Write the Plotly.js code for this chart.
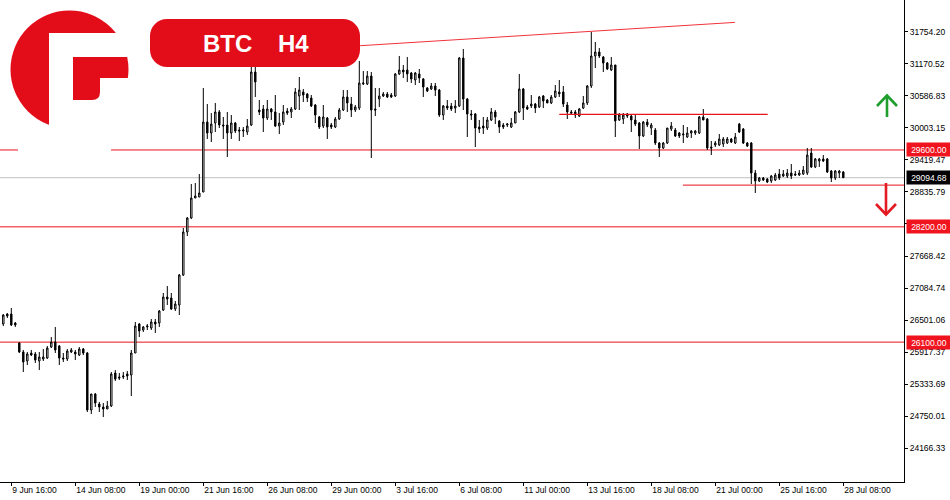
<!DOCTYPE html>
<html>
<head>
<meta charset="utf-8">
<script src="https://cdn.plot.ly/plotly-3.0.1.min.js"></script>
<style>html,body{margin:0;padding:0;background:#fff;}#chart{width:950px;height:500px;}</style>
</head>
<body>
<div id="chart"></div>
<script>
// ---- DATA (BTC H4 candles, one per 4-hour bar, weekends skipped) ----
const open = [
26430,26612,26612,26448,26084,25920,25756,25902,25884,25756,
25793,25811,26011,26102,26030,25811,25793,25920,25920,25865,
25975,25902,24864,25155,24973,24919,24882,24937,25538,25465,
25465,25520,25501,25902,26430,26321,26376,26357,26467,26448,
26685,26922,26904,26703,26776,27323,28106,28361,28725,28743,
28834,30109,29909,30091,30292,30055,30055,29909,30091,29964,
29945,29927,30055,31020,30328,30346,30182,30346,30292,30036,
30109,30310,30292,30346,30583,30656,30619,30547,30419,30201,
30036,30182,30055,30018,30164,30328,30565,30437,30328,30364,
30802,30802,30947,30346,30528,30583,30619,30601,30583,30984,
31057,31057,31002,30874,30984,30893,30729,30711,30765,30692,
30237,30401,30401,30364,30401,31275,30528,30255,30255,30018,
30036,30000,30146,30292,30127,30055,30055,30018,30091,30292,
30711,30383,30401,30437,30383,30583,30510,30456,30565,30656,
30656,30419,30292,30292,30219,30364,30456,30765,31312,31384,
31293,31184,31057,31148,30146,30164,30255,30219,30146,30091,
29855,30109,30000,29964,29727,29636,29727,29982,29964,29909,
29873,29836,29909,29909,29909,30201,30164,29654,29691,29691,
29709,29727,29800,29727,30073,29982,29727,29727,29180,29035,
29089,29071,29035,29053,29162,29126,29126,29180,29162,29144,
29162,29180,29545,29290,29399,29436,29436,29217,29089,29180,
29199];
const high = [
26612,26630,26722,26467,26102,25957,25920,25957,25920,25920,
25975,26030,26193,26376,26048,25902,25975,25993,25957,26011,
25993,25920,25155,25173,25010,24991,25028,25556,25592,25538,
25556,25574,25957,26467,26448,26394,26430,26521,26521,26685,
26995,27122,26995,26849,27341,28179,28379,28980,28998,29162,
30729,30437,30273,30456,30328,30201,30292,30237,30109,30018,
30018,30164,31129,31129,30510,30419,30510,30364,30601,30273,
30419,30364,30383,30729,30929,30711,30638,30601,30437,30219,
30419,30201,30091,30201,30364,30692,30692,30565,30419,31221,
31038,31038,31020,30729,30729,30656,30656,30638,31002,31312,
31148,31293,31020,31020,31075,30911,30747,30820,30820,30711,
30419,30510,30456,30510,31293,31439,30547,30328,30273,30146,
30201,30201,30364,30328,30146,30091,30091,30182,30310,30984,
30729,30419,30601,30456,30583,30601,30528,30601,30783,30874,
30765,30474,30328,30328,30364,30583,30783,31749,31567,31457,
31312,31202,31293,31148,30273,30273,30273,30237,30237,30109,
30128,30164,30091,30000,29745,29745,30000,30109,30000,29927,
30055,30018,29964,29964,30219,30346,30182,29764,29764,29891,
29836,29836,29818,29909,30091,30000,29745,29745,29235,29108,
29108,29089,29144,29180,29253,29235,29253,29344,29217,29235,
29308,29636,29636,29454,29454,29508,29454,29235,29235,29235,
29217];
const low = [
26394,26539,26394,26376,25902,25556,25683,25847,25720,25592,
25756,25793,25993,25902,25683,25738,25756,25902,25774,25847,
25865,24827,24791,24919,24827,24736,24882,24919,25392,25410,
25428,25410,25119,25902,26193,26285,26321,26321,26266,26376,
26667,26776,26685,26667,26594,27305,28033,28343,28725,28743,
28834,29800,29745,29927,30000,29800,29472,29800,29909,29763,
29836,29873,30036,30565,30237,29927,30146,30146,30018,29891,
30055,30237,30182,30328,30328,30474,30474,30383,30091,29982,
30000,29800,29982,30000,30146,30310,30292,30201,30292,30328,
30783,30783,29454,30219,30383,30565,30547,30547,30565,30966,
30911,30838,30820,30783,30820,30565,30656,30692,30583,30201,
30146,30328,30310,30273,30383,30328,29836,30146,29654,29909,
29891,29964,30127,30073,29909,29982,30018,30000,30091,30273,
30146,30328,30364,30273,30364,30364,30456,30437,30547,30565,
30383,30164,30237,30182,30201,30346,30419,30729,31093,31275,
31020,31057,31038,29836,30128,30073,30182,29927,30036,29618,
29836,30018,29873,29691,29472,29618,29709,29945,29836,29818,
29727,29818,29818,29873,29891,30146,29600,29508,29654,29672,
29654,29709,29727,29709,29909,29709,29654,28980,28816,29016,
29035,28998,28998,29035,29053,29108,29089,29071,29126,29126,
29144,29144,29271,29271,29290,29381,29180,29016,29053,29089,
29089];
const close = [
26594,26576,26412,26412,25920,25738,25884,25865,25774,25829,
25829,25993,26102,25957,25811,25793,25938,25957,25884,25975,
25902,24864,25155,24991,24919,24882,24937,25520,25428,25447,
25483,25483,25902,26394,26303,26376,26394,26467,26430,26667,
26922,26886,26703,26794,27323,28106,28361,28725,28762,28816,
30109,29909,30073,30292,30055,30036,29909,30091,29945,29945,
29964,30036,31020,30838,30292,30182,30346,30292,30036,30091,
30292,30273,30346,30656,30692,30601,30547,30401,30237,30018,
30201,30018,30018,30164,30328,30565,30456,30328,30383,30820,
30820,30947,30328,30328,30583,30619,30565,30565,30984,31057,
31020,30984,30893,31002,30911,30747,30674,30765,30692,30237,
30401,30364,30346,30401,31275,30528,30255,30237,30000,29982,
30000,30146,30292,30201,30018,30018,30073,30091,30292,30711,
30364,30346,30437,30364,30565,30492,30456,30565,30674,30620,
30437,30292,30273,30237,30346,30456,30765,31312,31384,31312,
31184,31075,31148,30128,30237,30237,30219,30146,30073,29855,
30109,30055,30055,29727,29636,29727,30000,30036,29855,29855,
29891,29909,29945,29945,30201,30146,29636,29636,29727,29800,
29800,29800,29745,29836,29927,29727,29672,29180,29035,29089,
29053,29016,29126,29144,29089,29162,29180,29126,29144,29180,
29235,29508,29290,29436,29436,29399,29199,29089,29217,29217,
29094.68];
const barIndex = open.map((_, i) => i);

const xTickBars  = [2,18,34,50,66,82,98,114,130,146,162,178,194,210];
const xTickText  = ["9 Jun 16:00","14 Jun 08:00","19 Jun 00:00","21 Jun 16:00","26 Jun 08:00","29 Jun 00:00","3 Jul 16:00","6 Jul 08:00","11 Jul 00:00","13 Jul 16:00","18 Jul 08:00","21 Jul 00:00","25 Jul 16:00","28 Jul 08:00"];
const yTickVals  = [24166.33,24750.01,25333.69,25917.37,26501.06,27084.74,27668.42,28252.10,28835.79,29419.47,30003.15,30586.83,31170.52,31754.20];

const redLevels   = [29600, 28200, 26100];
const currentPrice = 29094.68;
const segUpper = {from: 139, to: 191.1, price: 30250};
const segLower = {from: 169.9, to: 226, price: 28960};
const trendBars   = [89.2, 182.9];
const trendPrices = [31499, 31924];

// ---- layout helpers (decoration placed in pixel space of the plot area) ----
const PW = 904, PH = 482;
const px = x => x / PW;
const py = y => 1 - y / PH;
const pth = pts => pts.map((p, i) => (i ? 'L' : 'M') + px(p[0]).toFixed(5) + ',' + py(p[1]).toFixed(5)).join(' ');

const RED = '#e8141c';
const LOGO_RED = '#e30d1a';

const svg = `<svg xmlns="http://www.w3.org/2000/svg" width="370" height="160" viewBox="0 0 370 160">
<rect x="18" y="0" width="93" height="157" fill="#ffffff"/>
<circle cx="69.5" cy="69.5" r="59" fill="${LOGO_RED}"/>
<path d="M49 33 H140 V57 H73 V140 H49 Z" fill="#ffffff"/>
<path d="M73 100 H92 Q100 100 100 92 V78 H140 V140 H73 Z" fill="#ffffff"/>
<rect x="150" y="19" width="210" height="48" rx="17" ry="17" fill="${LOGO_RED}"/>
</svg>`;

const shapes = [];
shapes.push({type:'line', xref:'paper', x0:0, x1:1, yref:'y', y0:currentPrice, y1:currentPrice, line:{color:'#c0c0c0', width:1}, layer:'below'});
redLevels.forEach(v => shapes.push({type:'line', xref:'paper', x0:0, x1:1, yref:'y', y0:v, y1:v, line:{color:RED, width:1}, layer:'below'}));
shapes.push({type:'line', xref:'x', x0:segUpper.from, x1:segUpper.to, yref:'y', y0:segUpper.price, y1:segUpper.price, line:{color:RED, width:1.2}});
shapes.push({type:'line', xref:'x', x0:segLower.from, x1:segLower.to, yref:'y', y0:segLower.price, y1:segLower.price, line:{color:RED, width:1}});
shapes.push({type:'line', xref:'x', x0:trendBars[0], x1:trendBars[1], yref:'y', y0:trendPrices[0], y1:trendPrices[1], line:{color:'#f0333a', width:1}});
// arrows
const GREEN = '#1f9e2e';
shapes.push({type:'path', xref:'paper', yref:'paper', path: pth([[887,117],[887,96]]), line:{color:GREEN, width:2.6}});
shapes.push({type:'path', xref:'paper', yref:'paper', path: pth([[877,106],[887,95.5],[897,106]]), line:{color:GREEN, width:2.6}});
shapes.push({type:'path', xref:'paper', yref:'paper', path: pth([[886,183],[886,214]]), line:{color:'#e31b23', width:2.6}});
shapes.push({type:'path', xref:'paper', yref:'paper', path: pth([[876,204],[886,214.5],[896,204]]), line:{color:'#e31b23', width:2.6}});

const lbl = (v, bg) => ({xref:'paper', x:1, xanchor:'left', xshift:2, yref:'y', y:v, yanchor:'middle',
  text: v.toFixed(2), showarrow:false, bgcolor:bg, borderpad:1, width:42, height:11, align:'center',
  font:{family:'Liberation Sans, Arial, sans-serif', size:8.5, color:'#ffffff'}});

const annotations = [
  ...redLevels.map(v => lbl(v, '#f0141e')),
  lbl(currentPrice, '#000000'),
  {xref:'paper', yref:'paper', x:px(227.5), y:py(43.5), xanchor:'center', yanchor:'middle', text:'BTC', showarrow:false,
   font:{family:'Liberation Sans, Arial, sans-serif', size:24, color:'#ffffff', weight:'bold'}},
  {xref:'paper', yref:'paper', x:px(293.5), y:py(43.5), xanchor:'center', yanchor:'middle', text:'H4', showarrow:false,
   font:{family:'Liberation Sans, Arial, sans-serif', size:24, color:'#ffffff', weight:'bold'}}
];

const trace = {
  type:'candlestick', x: barIndex, open: open, high: high, low: low, close: close,
  increasing:{line:{color:'#000000', width:1}, fillcolor:'#ffffff'},
  decreasing:{line:{color:'#000000', width:1}, fillcolor:'#000000'},
  whiskerwidth:0, hoverinfo:'none', showlegend:false
};

const layout = {
  width:950, height:500,
  margin:{l:0, r:46, t:0, b:18, pad:0},
  paper_bgcolor:'#ffffff', plot_bgcolor:'#ffffff',
  showlegend:false, boxmode:'overlay', boxgap:0.5,
  font:{family:'Liberation Sans, Arial, sans-serif', size:8.5, color:'#000000'},
  xaxis:{range:[-0.825, 225.175], rangeslider:{visible:false}, showgrid:false, zeroline:false,
    showline:true, linecolor:'#000000', linewidth:1, ticks:'outside', ticklen:3, tickcolor:'#000000',
    tickmode:'array', tickvals:xTickBars, ticktext:xTickText, ticklabelposition:'outside right',
    tickfont:{family:'Liberation Sans, Arial, sans-serif', size:8.5, color:'#000000'}, fixedrange:true},
  yaxis:{side:'right', range:[23552.4, 32331.6], showgrid:false, zeroline:false,
    showline:true, linecolor:'#000000', linewidth:1, ticks:'outside', ticklen:3, tickcolor:'#000000',
    tickmode:'array', tickvals:yTickVals, ticktext:yTickVals.map(v => v.toFixed(2)),
    tickfont:{family:'Liberation Sans, Arial, sans-serif', size:8.5, color:'#000000'}, fixedrange:true},
  shapes: shapes,
  annotations: annotations,
  images:[{source:'data:image/svg+xml;charset=utf-8,' + encodeURIComponent(svg), xref:'paper', yref:'paper',
    x:0, y:1, sizex:370/PW, sizey:160/PH, xanchor:'left', yanchor:'top', sizing:'stretch', layer:'above'}]
};

Plotly.newPlot('chart', [trace], layout, {staticPlot:true, displayModeBar:false});
</script>
</body>
</html>
